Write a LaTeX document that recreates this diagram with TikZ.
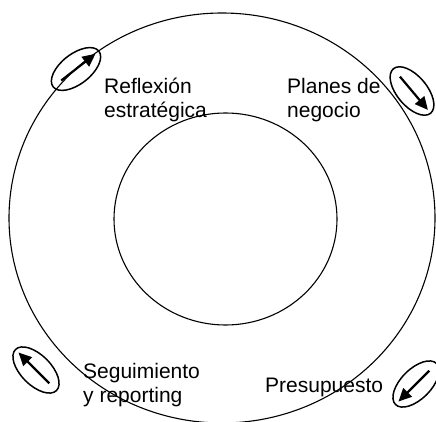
\documentclass[tikz,border=0pt]{standalone}
\usepackage{fontspec}
\setmainfont{Liberation Sans}
\usepackage{tikz}
\usetikzlibrary{shapes,arrows.meta,positioning,calc}

\begin{document}
\begin{tikzpicture}[x=1pt,y=1pt,
  ring/.style={draw, ellipse, line width=1.1pt, inner sep=0pt},
  marker/.style={draw, ellipse, line width=1.5pt, minimum width=58pt, minimum height=30pt, inner sep=0pt},
  flow/.style={line width=2.2pt, -{Triangle[length=13pt,width=12pt]}, shorten <=11pt, shorten >=5pt},
  lbl/.style={anchor=base west, align=left, inner sep=0pt, font=\fontsize{21}{24}\selectfont}]
\useasboundingbox (0,0) rectangle (436,421);
\node[ring, minimum width=426pt, minimum height=410pt] (outer) at (222,203) {};
\node[ring, minimum width=223pt, minimum height=212pt] (inner) at (225.5,202) {};
% stages
\node[lbl] (refl) at (104,303) {Reflexión\\estratégica};
\node[lbl] (plan) at (287,303) {Planes de\\negocio};
\node[lbl] (segu) at (83,19) {Seguimiento\\y reporting};
\node[lbl] (pres) at (265,29) {Presupuesto};
% arrows on the ring
\node[marker, rotate=38] (m1) at (76,352) {};
\node[marker, rotate=-50] (m2) at (412,330) {};
\node[marker, rotate=-45] (m3) at (36,51) {};
\node[marker, rotate=45] (m4) at (416,37) {};
\draw[flow] (m1.west) -- (m1.east);
\draw[flow] (m2.west) -- (m2.east);
\draw[flow] (m3.east) -- (m3.west);
\draw[flow] (m4.east) -- (m4.west);
\end{tikzpicture}
\end{document}
